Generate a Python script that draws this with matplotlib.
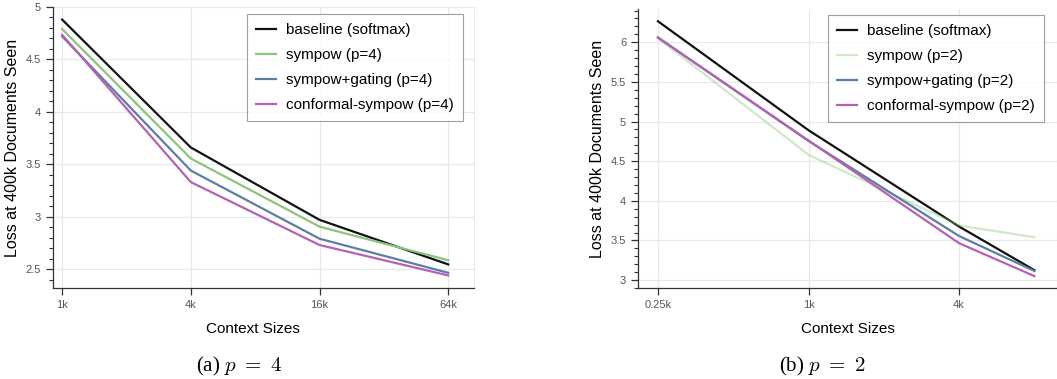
import matplotlib.pyplot as plt
from matplotlib.ticker import MultipleLocator, FixedLocator, FormatStrFormatter

plt.rcParams['font.family'] = ['Liberation Sans', 'DejaVu Sans']
plt.rcParams['mathtext.fontset'] = 'cm'

# (a) p = 4 : context sizes 1k, 4k, 16k, 64k
ctx_a = [1, 4, 16, 64]
ctx_a_labels = ["1k", "4k", "16k", "64k"]
baseline_a = [4.88, 3.66, 2.97, 2.545]
sympow_a = [4.79, 3.555, 2.905, 2.585]
gating_a = [4.72, 3.44, 2.79, 2.465]
conformal_a = [4.735, 3.33, 2.73, 2.44]

# (b) p = 2 : context sizes 0.25k, 1k, 4k, 8k
ctx_b = [0.25, 1, 4, 8]
ctx_b_ticks = [0.25, 1, 4]
ctx_b_labels = ["0.25k", "1k", "4k"]
baseline_b = [6.265, 4.89, 3.675, 3.125]
sympow_b = [6.05, 4.58, 3.69, 3.54]
gating_b = [6.06, 4.755, 3.555, 3.115]
conformal_b = [6.06, 4.76, 3.465, 3.05]

c_black = "#111111"
c_green = "#8cc47c"
c_blue = "#5b7fa3"
c_pink = "#b660b6"

fig = plt.figure(figsize=(10.57, 3.79), dpi=100)
ax1 = fig.add_axes([0.0501, 0.2401, 0.3983, 0.7414])
ax2 = fig.add_axes([0.6036, 0.2401, 0.3964, 0.7362])


def style(ax):
    ax.set_xscale("log", base=2)
    ax.grid(True, color="#e8e8e8", lw=0.9)
    ax.set_axisbelow(True)
    ax.spines["top"].set_visible(False)
    ax.spines["right"].set_color("#e8e8e8")
    for s in ["left", "bottom"]:
        ax.spines[s].set_color("#333333")
        ax.spines[s].set_linewidth(0.9)
    ax.yaxis.set_major_locator(MultipleLocator(0.5))
    ax.yaxis.set_minor_locator(MultipleLocator(0.1))
    ax.yaxis.set_major_formatter(FormatStrFormatter("%g"))
    ax.xaxis.set_minor_locator(FixedLocator([]))
    ax.tick_params(axis="both", which="major", direction="out", length=5,
                   width=0.9, color="#333333", labelsize=8, labelcolor="#555555")
    ax.tick_params(axis="y", which="minor", direction="out", length=3,
                   width=0.8, color="#333333")
    ax.set_ylabel("Loss at 400k Documents Seen", fontsize=11.5, labelpad=4)


def add_legend(ax, anchor):
    leg = ax.legend(loc="upper right", bbox_to_anchor=anchor, fontsize=11,
                    frameon=True, fancybox=False, edgecolor="#888888",
                    handlelength=1.3, handletextpad=0.65, labelspacing=0.72,
                    borderpad=0.6, borderaxespad=0.0)
    leg.get_frame().set_linewidth(0.8)


# panel (a)
ax1.plot(ctx_a, baseline_a, color=c_black, lw=1.6, label="baseline (softmax)")
ax1.plot(ctx_a, sympow_a, color=c_green, lw=1.6, label="sympow (p=4)")
ax1.plot(ctx_a, gating_a, color=c_blue, lw=1.6, label="sympow+gating (p=4)")
ax1.plot(ctx_a, conformal_a, color=c_pink, lw=1.6, label="conformal-sympow (p=4)")
style(ax1)
ax1.set_xticks(ctx_a)
ax1.set_xticklabels(ctx_a_labels)
ax1.set_xlim(2 ** -0.143, 2 ** 6.4)
ax1.set_ylim(2.32, 5.0)
add_legend(ax1, (0.974, 0.975))

# panel (b)
ax2.plot(ctx_b, baseline_b, color=c_black, lw=1.6, label="baseline (softmax)")
ax2.plot(ctx_b, sympow_b, color=c_green, lw=1.6, alpha=0.4, label="sympow (p=2)")
ax2.plot(ctx_b, gating_b, color=c_blue, lw=1.6, label="sympow+gating (p=2)")
ax2.plot(ctx_b, conformal_b, color=c_pink, lw=1.6, label="conformal-sympow (p=2)")
style(ax2)
ax2.set_xticks(ctx_b_ticks)
ax2.set_xticklabels(ctx_b_labels)
ax2.set_xlim(2 ** -2.265, 2 ** 3.3)
ax2.set_ylim(2.9, 6.42)
add_legend(ax2, (0.969, 0.978))

# x labels and captions
fig.text(253 / 1057, 1 - 329 / 379, "Context Sizes", ha="center", va="center", fontsize=11)
fig.text(848 / 1057, 1 - 329 / 379, "Context Sizes", ha="center", va="center", fontsize=11)
fig.text(239 / 1057, 1 - 366 / 379, r"(a) $p\ =\ 4$", ha="center", va="center",
         fontsize=15, family="Liberation Serif")
fig.text(823 / 1057, 1 - 366 / 379, r"(b) $p\ =\ 2$", ha="center", va="center",
         fontsize=15, family="Liberation Serif")

fig.savefig("out.png", dpi=100)
